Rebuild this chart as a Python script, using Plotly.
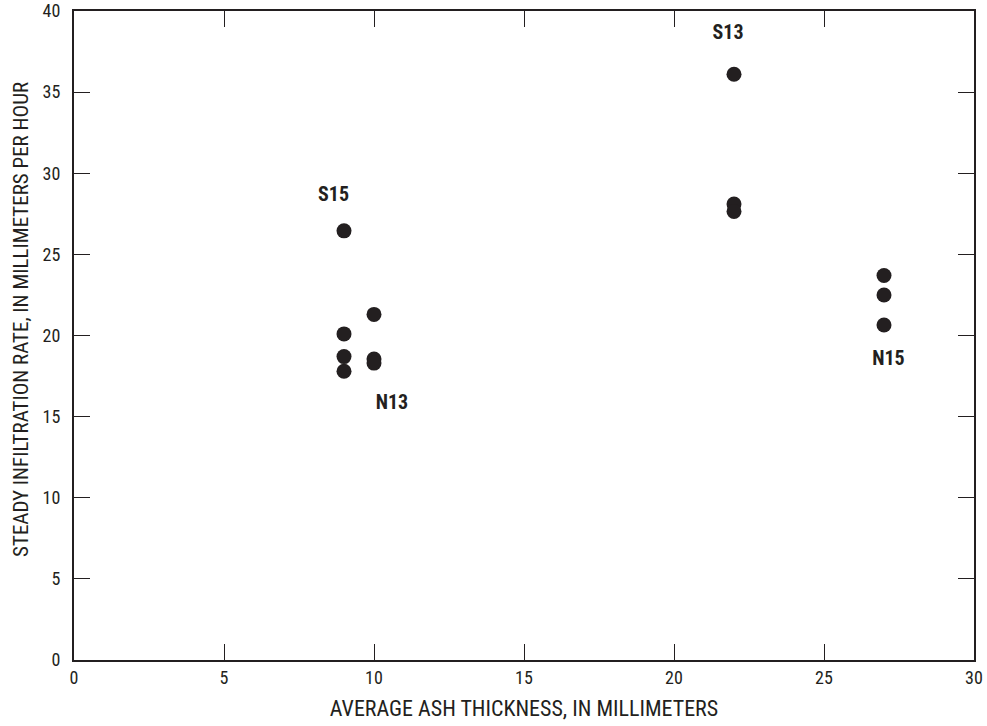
import plotly.graph_objects as go

ash_thickness = [9, 9, 9, 9, 10, 10, 10, 22, 22, 22, 27, 27, 27]
infiltration = [26.45, 20.1, 18.7, 17.8, 21.3, 18.55, 18.3, 36.1, 28.1, 27.65, 23.7, 22.5, 20.65]

label_text = ["S15", "N13", "S13", "N15"]
label_x = [8.65, 10.6, 21.8, 27.15]
label_y = [28.6, 15.8, 38.6, 18.5]

font_family = "Roboto Condensed, DejaVu Sans Condensed, sans-serif"
ink = "#231f20"

fig = go.Figure()
fig.add_trace(go.Scatter(
    x=ash_thickness, y=infiltration, mode="markers",
    marker=dict(size=15, color=ink, line=dict(width=0)),
    showlegend=False, hoverinfo="x+y",
))
fig.add_trace(go.Scatter(
    x=label_x, y=label_y, mode="text", text=label_text,
    textfont=dict(family=font_family, size=20, color=ink),
    texttemplate="<b>%{text}</b>",
    showlegend=False, hoverinfo="skip",
))

axis_common = dict(
    showgrid=False, zeroline=False, showline=True, linecolor=ink, linewidth=2,
    mirror="ticks", ticks="inside", ticklen=16, tickwidth=1.2, tickcolor=ink,
    tickfont=dict(family=font_family, size=18, color=ink),
    dtick=5, automargin=False,
)
fig.update_layout(
    width=987, height=726,
    margin=dict(l=74, r=13, t=11, b=66),
    plot_bgcolor="white", paper_bgcolor="white",
    xaxis=dict(range=[0, 30], tick0=0,
               title=dict(text="AVERAGE ASH THICKNESS, IN MILLIMETERS",
                          font=dict(family=font_family, size=22, color=ink), standoff=14),
               **axis_common),
    yaxis=dict(range=[0, 40], tick0=0, ticklabelstandoff=8, **axis_common),
    annotations=[dict(
        text="STEADY INFILTRATION RATE, IN MILLIMETERS PER HOUR",
        xref="paper", yref="paper", x=0, y=0.524, xanchor="center", yanchor="middle",
        xshift=-53, textangle=-90, showarrow=False,
        font=dict(family=font_family, size=21, color=ink),
    )],
)
fig.write_html("out.html")
